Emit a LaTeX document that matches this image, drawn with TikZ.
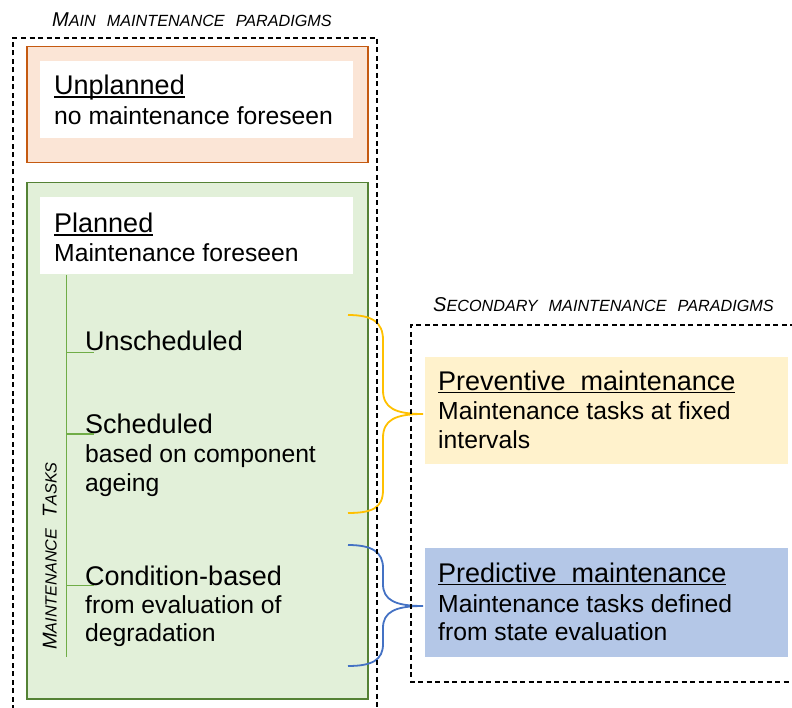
\documentclass[tikz,border=0pt]{standalone}
\usepackage{fontspec}
\setmainfont{Liberation Sans}
\definecolor{orfill}{HTML}{FBE5D6}
\definecolor{ordraw}{HTML}{C55A11}
\definecolor{grfill}{HTML}{E2F0D9}
\definecolor{grdraw}{HTML}{548235}
\definecolor{grtree}{HTML}{70AD47}
\definecolor{yefill}{HTML}{FFF2CC}
\definecolor{yebrace}{HTML}{FFC000}
\definecolor{blfill}{HTML}{B4C7E7}
\definecolor{blbrace}{HTML}{4472C4}
\newcommand{\myul}[1]{\setbox0\hbox{#1}\rlap{\rule[-3.3pt]{\wd0}{1.8pt}}\box0}
\newcommand{\fsc}[2]{{\fontsize{20}{24}\selectfont #1}{\fontsize{16.2}{20}\selectfont #2}}
\tikzset{
  head/.style={inner sep=0, anchor=base west, font=\fontsize{27}{32}\selectfont},
  body/.style={inner sep=0, anchor=base west, font=\fontsize{24.7}{29}\selectfont},
  ttl/.style={inner sep=0, anchor=base west, font=\itshape},
  frame/.style={dash pattern=on 5pt off 3.5pt, line width=1.3pt, black},
  panel/.style={inner sep=0, anchor=north west, line width=1.5pt},
  whitebox/.style={inner sep=0, anchor=north west, fill=white, draw=none},
  tree/.style={grtree, line width=1.5pt},
  brace/.style={line width=1.8pt}
}
\begin{document}
\begin{tikzpicture}[x=1pt,y=-1pt]
\useasboundingbox (0,0) rectangle (792,708);

% main panels
\node[panel, draw=ordraw, fill=orfill, minimum width=341pt, minimum height=116pt] (unpl) at (26,46) {};
\node[whitebox, minimum width=313pt, minimum height=77pt] (unplw) at (40,61) {};
\node[panel, draw=grdraw, fill=grfill, minimum width=341pt, minimum height=516pt] (plan) at (26,182) {};
\node[whitebox, minimum width=313pt, minimum height=77pt] (planw) at (40,197) {};

% titles
\node[ttl] (ttlmain) at (52,26.7) {\fsc{M}{AIN}\hspace{11pt}\fsc{}{MAINTENANCE}\hspace{11pt}\fsc{}{PARADIGMS}};
\node[ttl] (ttlsec) at (433,311.7) {\fsc{S}{ECONDARY}\hspace{11pt}\fsc{}{MAINTENANCE}\hspace{11pt}\fsc{}{PARADIGMS}};
\node[ttl, rotate=90] (ttltask) at (56.7,650) {\fsc{M}{AINTENANCE}\hspace{11pt}\fsc{T}{ASKS}};

% texts in main
\node[head] (t1) at (54,95) {\myul{Unplanned}};
\node[body] (t2) at (54,125) {no maintenance foreseen};
\node[head] (t3) at (54,233) {\myul{Planned}};
\node[body] (t4) at (54,262) {Maintenance foreseen};

\node[head] (s1) at (85,351) {Unscheduled};
\node[head] (s2) at (85,433) {Scheduled};
\node[body] (s2a) at (85,462) {based on component};
\node[body] (s2b) at (85,491) {ageing};
\node[head] (s3) at (85,585) {Condition-based};
\node[body] (s3a) at (85,613) {from evaluation of};
\node[body] (s3b) at (85,641) {degradation};

% tree
\coordinate (tr0) at (66.7,275);
\coordinate (tr1) at (66.7,657);
\coordinate (b1) at (66.7,352.5);
\coordinate (b2) at (66.7,434);
\coordinate (b3) at (66.7,585.5);
\draw[tree] (tr0) -- (tr1);
\draw[tree] (b1) -- ++(27,0);
\draw[tree] (b2) -- ++(27,0);
\draw[tree] (b3) -- ++(27,0);

% secondary boxes
\node[panel, fill=yefill, minimum width=363pt, minimum height=107pt] (prev) at (424,356) {};
\node[head] (p1) at (438,390) {\myul{Preventive\ \ maintenance}};
\node[body] (p2) at (438,419) {Maintenance tasks at fixed};
\node[body] (p3) at (438,448) {intervals};

\node[panel, fill=blfill, minimum width=363pt, minimum height=109pt] (pred) at (424,547) {};
\node[head] (q1) at (438,582) {\myul{Predictive\ \ maintenance}};
\node[body] (q2) at (438,612) {Maintenance tasks defined};
\node[body] (q3) at (438,640) {from state evaluation};

% braces
\coordinate (ytip) at (423,414);
\coordinate (btip) at (423,606);
\draw[brace, yebrace] (348,315) .. controls (372,315) and (383,322) .. (383,340) -- (383,390)
  .. controls (383,408) and (395,414) .. (ytip)
  .. controls (395,414) and (383,420) .. (383,438) -- (383,490)
  .. controls (383,508) and (372,513) .. (348,513);
\draw[brace, blbrace] (348,545) .. controls (372,545) and (383,552) .. (383,568) -- (383,584)
  .. controls (383,600) and (395,606) .. (btip)
  .. controls (395,606) and (383,612) .. (383,628) -- (383,644)
  .. controls (383,660) and (372,666) .. (348,666);

% dashed frames
\draw[frame] (13,710) -- (13,38) -- (377,38) -- (377,710);
\draw[frame] (795,325) -- (411,325) -- (411,682) -- (795,682);
\end{tikzpicture}
\end{document}
